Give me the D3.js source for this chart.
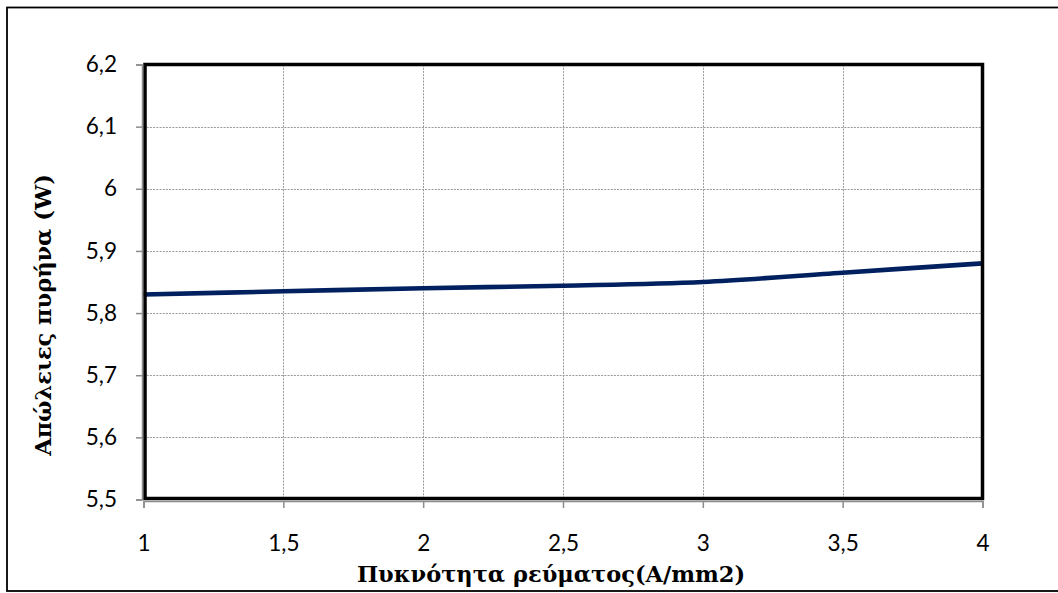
<!DOCTYPE html>
<html>
<head>
<meta charset="utf-8">
<script src="https://cdn.jsdelivr.net/npm/d3@7"></script>
<style>
  html, body { margin: 0; padding: 0; background: #fff; }
  svg { display: block; }
  .tick text { font-family: Lato, "Open Sans", sans-serif; font-size: 22.5px; fill: #000; }
  .title { font-family: "DejaVu Serif", serif; font-weight: bold; font-size: 22.5px; fill: #000; }
</style>
</head>
<body>
<svg id="chart" width="1058" height="593"></svg>
<script>
// Current density (A/mm2) against core losses (W)
const density = [1, 1.5, 2, 2.5, 3, 3.5, 4];
const coreLoss = [5.830, 5.835, 5.840, 5.844, 5.850, 5.865, 5.880];
const xTicks = [1, 1.5, 2, 2.5, 3, 3.5, 4];
const yTicks = [5.5, 5.6, 5.7, 5.8, 5.9, 6.0, 6.1, 6.2];
const xTitle = "Πυκνότητα ρεύματος(A/mm2)";
const yTitle = "Απώλειες πυρήνα (W)";

const svg = d3.select("#chart");
const plot = { left: 143.5, right: 982.5, top: 64.5, bottom: 499.5 };

const x = d3.scaleLinear().domain([1, 4]).range([plot.left, plot.right]);
const y = d3.scaleLinear().domain([5.5, 6.2]).range([plot.bottom, plot.top]);
const fmt = d => String(d).replace(".", ",");

// outer chart frame (open on the right)
svg.append("rect")
  .attr("x", 7).attr("y", 7.5)
  .attr("width", 1070).attr("height", 583.5)
  .attr("fill", "none").attr("stroke", "#000").attr("stroke-width", 1.8);

// dotted grid
const grid = svg.append("g").attr("stroke", "#9a9a9a").attr("stroke-width", 1)
  .attr("stroke-dasharray", "2,1.2");
grid.selectAll("line.v").data(xTicks.slice(1, -1)).join("line")
  .attr("class", "v")
  .attr("x1", d => Math.round(x(d)) + 0.5).attr("x2", d => Math.round(x(d)) + 0.5)
  .attr("y1", plot.top).attr("y2", plot.bottom);
grid.selectAll("line.h").data(yTicks.slice(1, -1)).join("line")
  .attr("class", "h")
  .attr("y1", d => Math.round(y(d)) + 0.5).attr("y2", d => Math.round(y(d)) + 0.5)
  .attr("x1", plot.left).attr("x2", plot.right);

// data line, smoothed
const line = d3.line()
  .x((d, i) => x(density[i]))
  .y(d => y(d))
  .curve(d3.curveCatmullRom.alpha(0));
svg.append("path")
  .datum(coreLoss)
  .attr("d", line)
  .attr("fill", "none")
  .attr("stroke", "#002060")
  .attr("stroke-width", 4.6)
  .attr("stroke-linecap", "butt");

// plot-area border
svg.append("rect")
  .attr("x", plot.left + 1.5).attr("y", plot.top)
  .attr("width", plot.right - plot.left - 1.5).attr("height", plot.bottom - plot.top - 1)
  .attr("fill", "none").attr("stroke", "#000").attr("stroke-width", 3.5);

// axes
const yAxis = svg.append("g")
  .attr("transform", `translate(${plot.left - 1.5},0)`)
  .call(d3.axisLeft(y).tickValues(yTicks).tickFormat(fmt).tickSize(6).tickPadding(19));
const xAxis = svg.append("g")
  .attr("transform", `translate(0,${plot.bottom + 1.5})`)
  .call(d3.axisBottom(x).tickValues(xTicks).tickFormat(fmt).tickSize(7).tickPadding(27));
[yAxis, xAxis].forEach(g => {
  g.select(".domain").attr("stroke", "#8c8c8c").attr("stroke-width", 1.5);
  g.selectAll(".tick line").attr("stroke", "#8c8c8c").attr("stroke-width", 1.5);
  g.attr("font-size", null).attr("font-family", null);
});

// axis titles
svg.append("text").attr("class", "title")
  .attr("x", 551).attr("y", 582)
  .attr("text-anchor", "middle")
  .text(xTitle);
svg.append("text").attr("class", "title")
  .attr("transform", "translate(51,315) rotate(-90)")
  .attr("text-anchor", "middle")
  .text(yTitle);
</script>
</body>
</html>
